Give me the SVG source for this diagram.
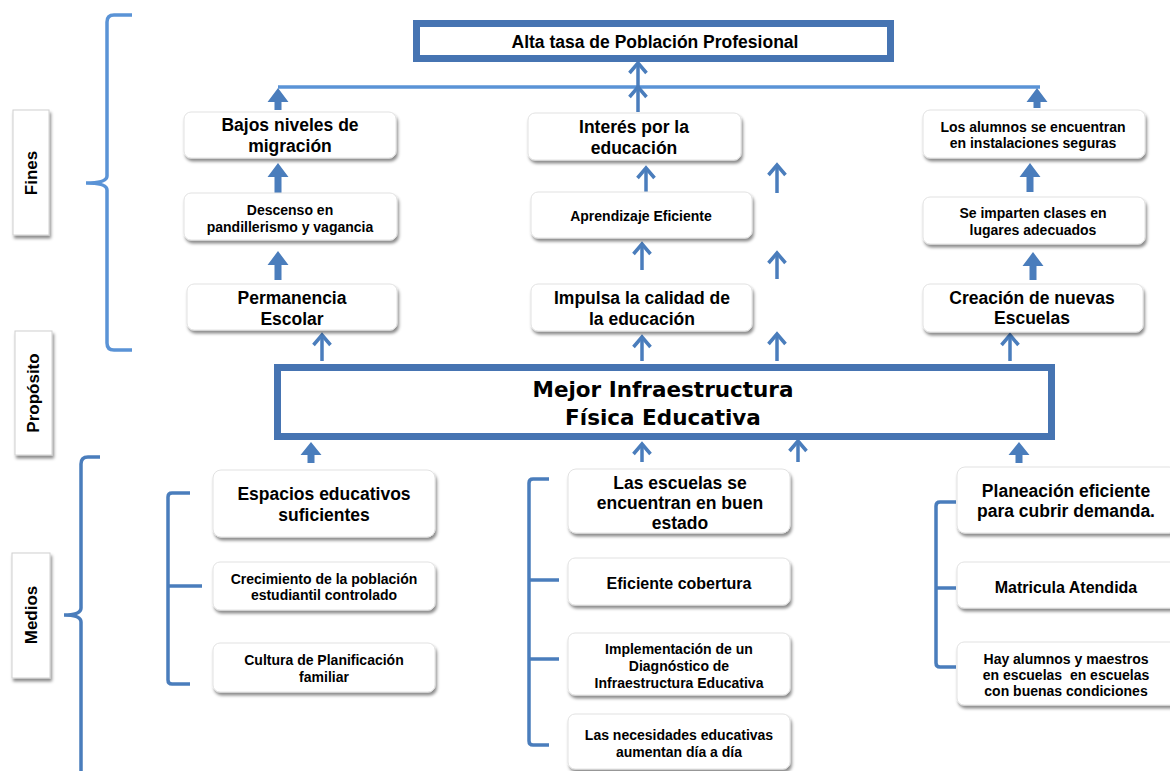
<svg xmlns="http://www.w3.org/2000/svg" width="1170" height="771" viewBox="0 0 1170 771">
<style>
.bx{fill:#fff;stroke:#e2e2e2;stroke-width:1;filter:url(#sh)}
.lb{fill:#fff;stroke:#d0d0d0;stroke-width:1;filter:url(#sh)}
.big{fill:#fff;stroke:#4674b2;stroke-width:7}
.t{font-family:"Liberation Sans",Arial,sans-serif;font-weight:bold;fill:#000;text-anchor:middle}
.L{font-size:17.5px}
.S{font-size:14px}
.M{font-size:16px}
.tm{font-family:"DejaVu Sans",Verdana,sans-serif;font-weight:bold;font-size:21.5px;fill:#000;text-anchor:middle}
.thin{fill:none;stroke:#4a7dbc;stroke-width:3.5;marker-end:url(#chev)}
.blk{fill:#4a7dbc}
.br{fill:none;stroke:#4a7dbc;stroke-width:3.5}
.brl{fill:none;stroke:#5a93d6;stroke-width:3.5}
</style>
<defs>
<filter id="sh" x="-10%" y="-20%" width="125%" height="150%">
<feDropShadow dx="1.5" dy="3" stdDeviation="1.5" flood-color="#000" flood-opacity="0.45"/>
</filter>
<marker id="chev" markerUnits="userSpaceOnUse" orient="auto" refX="0" refY="0" markerWidth="30" markerHeight="30" viewBox="-15 -15 30 30" overflow="visible">
<path d="M-10,-8.5 L0,0 L-10,8.5" fill="none" stroke="#4a7dbc" stroke-width="3.5"/>
</marker>
</defs>
<rect width="1170" height="771" fill="#fff"/>

<g id="labels">
<g id="lbl-fines"><rect class="lb" x="13" y="110" width="36" height="125"/><text class="t" font-size="17px" transform="translate(37,173) rotate(-90)">Fines</text></g>
<g id="lbl-proposito"><rect class="lb" x="15" y="331" width="37" height="124"/><text class="t" font-size="17px" transform="translate(39,393) rotate(-90)">Propósito</text></g>
<g id="lbl-medios"><rect class="lb" x="12" y="553" width="38" height="125"/><text class="t" font-size="17px" transform="translate(37,615) rotate(-90)">Medios</text></g>
</g>

<g id="brackets">
<path class="brl" d="M132,15 L114,15 Q107,15 107,22 L107,176 Q107,183 86,183 Q107,183 107,190 L107,343 Q107,350 114,350 L132,350"/>
<path class="br" d="M100,457 L88,457 Q81,457 81,464 L81,608 Q81,615 64,615 Q81,615 81,622 L81,775"/>
<path class="br" d="M190,493 L172,493 Q168,493 168,497 L168,680 Q168,684 172,684 L190,684 M168,586 L202,586"/>
<path class="br" d="M549,479 L533,479 Q529,479 529,483 L529,741 Q529,745 533,745 L549,745 M529,580 L559,580 M529,659 L559,659"/>
<path class="br" d="M956,502 L940,502 Q936,502 936,506 L936,663 Q936,667 940,667 L956,667 M936,588 L956,588"/>
</g>

<g id="connectors">
<path class="brl" d="M278,87 L1040,87"/>
<path class="thin" d="M638,112 L638,87"/>
<path class="thin" d="M638,87 L638,63"/>
<path class="thin" d="M646,194 L646,168"/>
<path class="thin" d="M642,270 L642,244"/>
<path class="thin" d="M642,361 L642,337"/>
<path class="thin" d="M777,193 L777,165"/>
<path class="thin" d="M777,279 L777,253"/>
<path class="thin" d="M777,361 L777,334"/>
<path class="thin" d="M322,361 L322,335"/>
<path class="thin" d="M1010,361 L1010,335"/>
<path class="thin" d="M642,462 L642,444"/>
<path class="thin" d="M798,462 L798,441"/>
<polygon class="blk" points="278,88 288.5,102 281.5,102 281.5,110 274.5,110 274.5,102 267.5,102"/>
<polygon class="blk" points="278,163 288.5,177 281.5,177 281.5,193 274.5,193 274.5,177 267.5,177"/>
<polygon class="blk" points="278,251 288.5,265 281.5,265 281.5,280 274.5,280 274.5,265 267.5,265"/>
<polygon class="blk" points="1037,88 1047.5,102 1040.5,102 1040.5,108 1033.5,108 1033.5,102 1026.5,102"/>
<polygon class="blk" points="1030,163 1040.5,177 1033.5,177 1033.5,192 1026.5,192 1026.5,177 1019.5,177"/>
<polygon class="blk" points="1033,252 1043.5,266 1036.5,266 1036.5,280 1029.5,280 1029.5,266 1022.5,266"/>
<polygon class="blk" points="311,442 321.5,455 314.5,455 314.5,463 307.5,463 307.5,455 300.5,455"/>
<polygon class="blk" points="1019,442 1029.5,455 1022.5,455 1022.5,463 1015.5,463 1015.5,455 1008.5,455"/>
</g>

<g id="n-alta"><rect class="big" x="416.5" y="23.5" width="474" height="35"/><text class="t L" x="655" y="48">Alta tasa de Población Profesional</text></g>

<g id="n-bajos"><rect class="bx" x="184" y="112" width="212" height="46" rx="7"/><text class="t L" x="290" y="131">Bajos niveles de</text><text class="t L" x="290" y="152">migración</text></g>
<g id="n-descenso"><rect class="bx" x="184" y="193" width="213" height="47" rx="7"/><text class="t S" x="290" y="215">Descenso en</text><text class="t S" x="290" y="232">pandillerismo y vagancia</text></g>
<g id="n-permanencia"><rect class="bx" x="187" y="284" width="210" height="46" rx="7"/><text class="t L" x="292" y="304">Permanencia</text><text class="t L" x="292" y="325">Escolar</text></g>

<g id="n-interes"><rect class="bx" x="528" y="113" width="213" height="47" rx="7"/><text class="t L" x="634" y="133">Interés por la</text><text class="t L" x="634" y="154">educación</text></g>
<g id="n-aprendizaje"><rect class="bx" x="531" y="192" width="221" height="46" rx="7"/><text class="t S" x="641" y="221">Aprendizaje Eficiente</text></g>
<g id="n-impulsa"><rect class="bx" x="531" y="284" width="221" height="47" rx="7"/><text class="t L" x="642" y="304">Impulsa la calidad de</text><text class="t L" x="642" y="325">la educación</text></g>

<g id="n-alumnos"><rect class="bx" x="923" y="110" width="222" height="48" rx="7"/><text class="t S" x="1033" y="132">Los alumnos se encuentran</text><text class="t S" x="1033" y="148">en instalaciones seguras</text></g>
<g id="n-imparten"><rect class="bx" x="923" y="197" width="222" height="47" rx="7"/><text class="t S" x="1033" y="218">Se imparten clases en</text><text class="t S" x="1033" y="235">lugares adecuados</text></g>
<g id="n-creacion"><rect class="bx" x="923" y="284" width="220" height="48" rx="7"/><text class="t L" x="1032" y="304">Creación de nuevas</text><text class="t L" x="1032" y="324">Escuelas</text></g>

<g id="n-mejor"><rect class="big" x="277.5" y="367.5" width="774" height="69"/><text class="tm" x="663" y="397">Mejor Infraestructura</text><text class="tm" x="663" y="425">Física Educativa</text></g>

<g id="n-espacios"><rect class="bx" x="213" y="470" width="222" height="67" rx="8"/><text class="t L" x="324" y="500">Espacios educativos</text><text class="t L" x="324" y="521">suficientes</text></g>
<g id="n-crecimiento"><rect class="bx" x="213" y="562" width="222" height="48" rx="7"/><text class="t S" x="324" y="584">Crecimiento de la población</text><text class="t S" x="324" y="600">estudiantil controlado</text></g>
<g id="n-cultura"><rect class="bx" x="213" y="643" width="222" height="49" rx="7"/><text class="t S" x="324" y="665">Cultura de Planificación</text><text class="t S" x="324" y="682">familiar</text></g>

<g id="n-escuelas"><rect class="bx" x="568" y="469" width="222" height="64" rx="8"/><text class="t L" x="680" y="489">Las escuelas se</text><text class="t L" x="680" y="509">encuentran en buen</text><text class="t L" x="680" y="529">estado</text></g>
<g id="n-eficiente"><rect class="bx" x="568" y="558" width="222" height="47" rx="7"/><text class="t M" x="679" y="589">Eficiente cobertura</text></g>
<g id="n-implementacion"><rect class="bx" x="568" y="633" width="222" height="62" rx="7"/><text class="t S" x="679" y="654">Implementación de un</text><text class="t S" x="679" y="671">Diagnóstico de</text><text class="t S" x="679" y="688">Infraestructura Educativa</text></g>
<g id="n-necesidades"><rect class="bx" x="568" y="714" width="222" height="55" rx="7"/><text class="t S" x="679" y="740">Las necesidades educativas</text><text class="t S" x="679" y="757">aumentan día a día</text></g>

<g id="n-planeacion"><rect class="bx" x="957" y="467" width="220" height="66" rx="8"/><text class="t L" x="1066" y="497">Planeación eficiente</text><text class="t L" x="1066" y="517">para cubrir demanda.</text></g>
<g id="n-matricula"><rect class="bx" x="957" y="562" width="220" height="46" rx="7"/><text class="t M" x="1066" y="593">Matricula Atendida</text></g>
<g id="n-hay"><rect class="bx" x="957" y="642" width="220" height="63" rx="7"/><text class="t S" x="1066" y="664">Hay alumnos y maestros</text><text class="t S" x="1066" y="680" style="white-space:pre">en escuelas  en escuelas</text><text class="t S" x="1066" y="696">con buenas condiciones</text></g>
</svg>
